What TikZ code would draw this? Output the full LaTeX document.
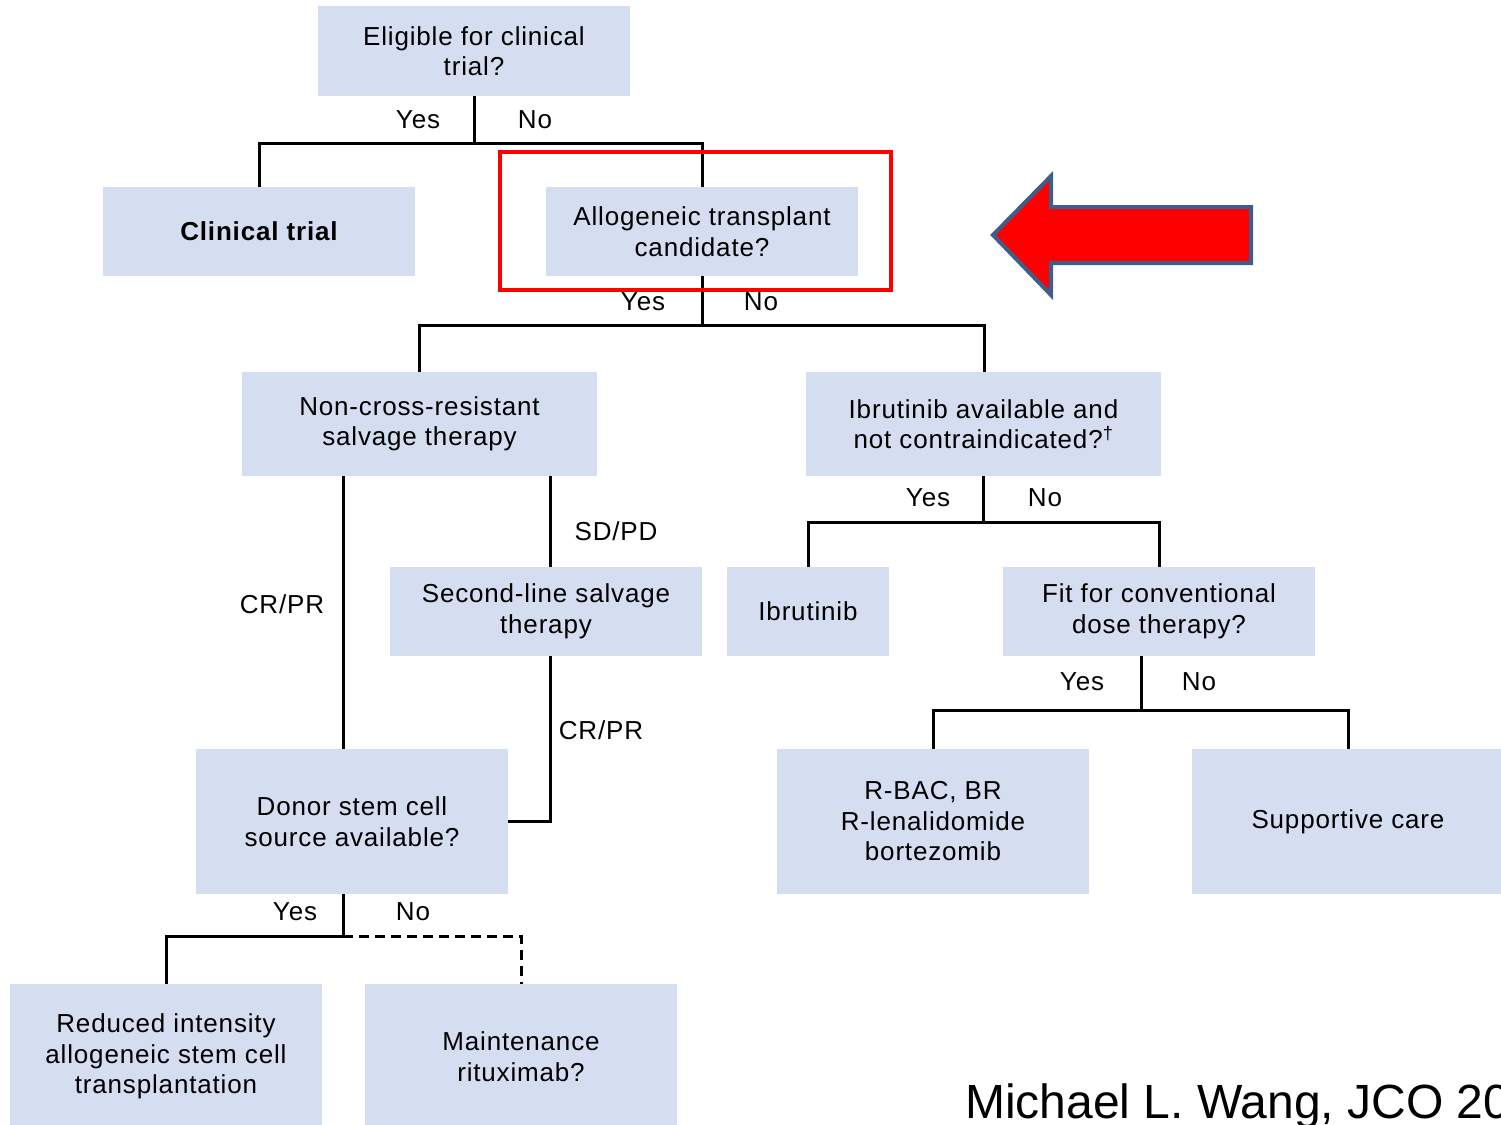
\documentclass[tikz,border=0pt]{standalone}
\usepackage{fontspec}
\setmainfont{Liberation Sans}[LetterSpace=3.2]
\newfontfamily\citefont{Liberation Sans}
\definecolor{boxc}{HTML}{D5DDF1}
\definecolor{arrowborder}{HTML}{3B5E8C}
\definecolor{hired}{HTML}{FF0000}
\begin{document}
\begin{tikzpicture}[x=1pt,y=-1pt,
  box/.style={fill=boxc, minimum width=312pt, minimum height=89pt, align=center, inner sep=0pt, font=\fontsize{26}{30.5}\selectfont},
  lab/.style={inner sep=0pt, font=\fontsize{26}{30}\selectfont},
  conn/.style={line width=3pt, black},
]
\useasboundingbox (0,0) rectangle (1501,1124);
\clip (0,0) rectangle (1501,1124);
% boxes
\node[box, minimum height=90pt] (elig) at (474,51) {Eligible for clinical\\trial?};
\node[box] (clin) at (259,231.5) {\bfseries Clinical trial};
\node[box] (allo) at (702,231.5) {Allogeneic transplant\\candidate?};
\node[box, minimum width=355pt, minimum height=104pt] (non) at (419.5,424) {Non-cross-resistant\\salvage therapy};
\node[box, minimum width=355pt, minimum height=104pt] (ibav) at (983.5,424) {Ibrutinib available and\\not contraindicated?\textsuperscript{†}};
\node[box] (sec) at (546,611.5) {Second-line salvage\\therapy};
\node[box, minimum width=162pt] (ibr) at (808,611.5) {Ibrutinib};
\node[box] (fit) at (1159,611.5) {Fit for conventional\\dose therapy?};
\node[box, minimum height=145pt] (donor) at (352,821.5) {Donor stem cell\\source available?};
\node[box, minimum height=145pt] (rbac) at (933,821.5) {R-BAC, BR\\R-lenalidomide\\bortezomib};
\node[box, minimum height=145pt] (supp) at (1348,821.5) {\raisebox{-2pt}{Supportive care}};
\node[box, minimum height=145pt] (red) at (166,1056.5) {Reduced intensity\\allogeneic stem cell\\transplantation};
\node[box, minimum height=145pt] (maint) at (521,1056.5) {Maintenance\\rituximab?};
% connectors
\draw[conn] (elig.south) -- ++(0,47) coordinate (j1) -| (clin.north);
\draw[conn] (j1) -| (allo.north);
\draw[conn] (allo.south) -- ++(0,49) coordinate (j2) -| (non.north);
\draw[conn] (j2) -| ([xshift=0.5pt]ibav.north);
\draw[conn] ([xshift=-76.5pt]non.south) -- ([xshift=-9pt]donor.north);
\draw[conn] ([xshift=130.5pt]non.south) -- ([xshift=4pt]sec.north);
\draw[conn] ([xshift=4pt]sec.south) |- (donor.east);
\draw[conn] ([xshift=-0.5pt]ibav.south) -- ++(0,46) coordinate (j3) -| (ibr.north);
\draw[conn] (j3) -| (fit.north);
\draw[conn] ([xshift=-18pt]fit.south) -- ++(0,54) coordinate (j4) -| (rbac.north);
\draw[conn] (j4) -| (supp.north);
\draw[conn] ([xshift=-9pt]donor.south) -- ++(0,42) coordinate (j5) -| (red.north);
\draw[conn, dash pattern=on 10pt off 6pt] (j5) -| (maint.north);
% labels
\node[lab] (l1y) at (418,120) {Yes};
\node[lab] (l1n) at (535,120) {No};
\node[lab] (l2y) at (643,302) {Yes};
\node[lab] (l2n) at (761,302) {No};
\node[lab] (l3) at (282,604) {CR/PR};
\node[lab] (l4) at (616,531) {SD/PD};
\node[lab] (l5) at (601,730) {CR/PR};
\node[lab] (l6y) at (928,498) {Yes};
\node[lab] (l6n) at (1045,498) {No};
\node[lab] (l7y) at (1082,682) {Yes};
\node[lab] (l7n) at (1199,682) {No};
\node[lab] (l8y) at (295,912) {Yes};
\node[lab] (l8n) at (413,912) {No};
% highlight
\draw[hired, line width=4.5pt] (500,152) rectangle (891,290);
\draw[fill=hired, draw=arrowborder, line width=4pt, line join=miter]
  (993,235) -- (1051,176) -- (1051,207) -- (1251,207) -- (1251,263) -- (1051,263) -- (1051,295) -- cycle;
% citation
\node[anchor=base west, inner sep=0pt, font=\citefont\fontsize{48}{56}\selectfont] (cite) at (965,1118) {Michael L. Wang, JCO 20};
\end{tikzpicture}
\end{document}
